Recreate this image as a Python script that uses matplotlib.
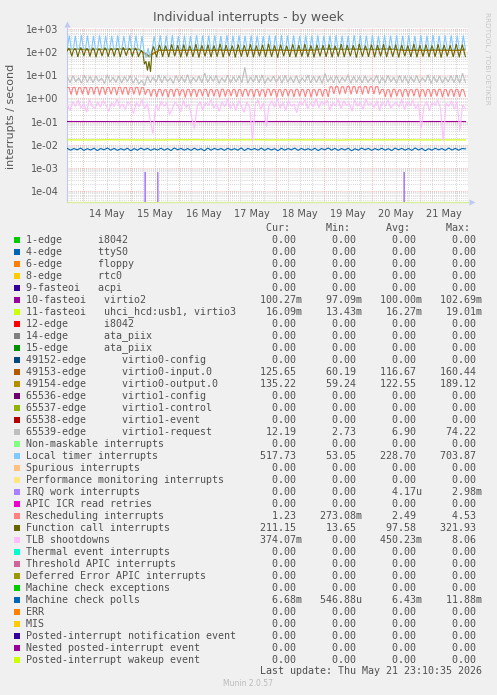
import numpy as np
import matplotlib
matplotlib.use("Agg")
import matplotlib.pyplot as plt
from matplotlib.patches import Rectangle

W, H = 497, 695

# ------------------------------------------------------------------ data
title = "Individual interrupts - by week"
ylabel = "interrupts / second"
day_labels = ["14 May", "15 May", "16 May", "17 May", "18 May", "19 May", "20 May", "21 May"]
ytick_vals = [1e-4, 1e-3, 1e-2, 1e-1, 1e0, 1e1, 1e2, 1e3]
ytick_labels = ["1e-04", "1e-03", "1e-02", "1e-01", "1e+00", "1e+01", "1e+02", "1e+03"]
# time in days relative to 14 May 00:00
t_start, t_end = -0.33, 7.94
view_x = (-0.335, 7.995)
view_y = (10 ** -4.475, 10 ** 3.04)

# Local timer interrupts (per cycle peak / trough)
timer_peak = [520, 505, 540, 512, 498, 530, 515, 508, 525, 500, 535, 518, 505, 150, 490,
              528, 512, 540, 505, 520, 498, 532, 515, 510, 526, 502, 538, 514, 520, 507,
              530, 512, 495, 528, 516, 540, 508, 522, 500, 534, 515, 526, 505, 518, 530,
              512, 498, 536, 520, 510, 528, 504, 540, 516, 522, 508, 532, 500, 525, 514,
              538, 506, 520, 530, 512, 525]
timer_low = [135, 128, 140, 132, 126, 138, 130, 134, 127, 136, 131, 129, 110, 58, 125,
             137, 130, 128, 135, 132, 126, 139, 131, 128, 136, 130, 133, 127, 138, 131,
             129, 135, 128, 132, 137, 126, 134, 130, 139, 128, 133, 131, 127, 136, 130,
             134, 128, 138, 131, 129, 135, 132, 126, 137, 130, 133, 128, 136, 131, 129,
             134, 130, 137, 128, 133, 131]

# Function call interrupts (per cycle base / peak / base / low)
fc_peak = [150, 142, 158, 146, 152, 140, 155, 148, 144, 160, 147, 151, 120, 16, 175,
           205, 190, 215, 198, 210, 186, 220, 195, 208, 192, 225, 200, 188, 212, 196,
           218, 190, 204, 228, 194, 210, 186, 216, 200, 222, 192, 206, 198, 214, 188,
           220, 202, 196, 226, 190, 208, 200, 218, 186, 212, 204, 194, 224, 198, 210,
           190, 216, 202, 196, 220, 211]
fc_base = [112, 115, 110, 118, 114, 111, 116, 113, 117, 110, 115, 112, 90, 40, 105,
           118, 114, 120, 112, 116, 119, 113, 117, 111, 115, 120, 114, 118, 112, 116,
           119, 113, 117, 115, 111, 118, 114, 120, 112, 116, 119, 113, 117, 111, 115,
           120, 114, 118, 112, 116, 119, 113, 117, 115, 111, 118, 114, 120, 112, 116,
           119, 113, 117, 111, 115, 118]
fc_low = [66, 62, 68, 64, 60, 67, 63, 65, 61, 69, 64, 62, 30, 14, 60,
          63, 61, 66, 60, 64, 62, 58, 65, 61, 63, 60, 66, 59, 64, 62,
          60, 65, 61, 63, 58, 66, 62, 60, 64, 61, 59, 65, 62, 60, 63,
          61, 66, 58, 64, 62, 60, 65, 61, 63, 59, 66, 62, 60, 64, 61,
          63, 58, 65, 62, 60, 64]

# virtio0 input / output
virtio_in = [128, 132, 125, 130, 127, 134, 129, 131, 70, 118, 120, 116, 122, 119, 117, 121, 118, 115, 120, 117,
             119, 122, 116, 118, 121, 130, 133, 128, 131, 129, 127, 132, 130, 118, 120, 117, 121, 119, 116, 125]
virtio_out = [135, 138, 131, 137, 133, 140, 136, 134, 62, 124, 126, 121, 127, 124, 122, 128, 123, 120, 126, 122,
              125, 129, 121, 124, 127, 137, 140, 134, 138, 135, 133, 139, 136, 124, 127, 122, 128, 125, 121, 135]

# virtio1-request (per cycle high / low)
vreq_hi = [8.5, 9.6, 7.8, 10.2, 8.9, 9.1, 7.6, 10.5, 8.2, 9.4, 8.8, 10.0, 7.9, 6.0, 9.2,
           8.4, 10.3, 9.0, 7.7, 9.8, 8.6, 10.6, 8.1, 9.3, 12.5, 8.7, 9.9, 7.8, 10.1, 8.5,
           9.5, 22.0, 8.3, 9.7, 10.4, 7.9, 9.2, 8.8, 10.0, 8.4, 9.6, 7.7, 10.3, 8.9, 9.1,
           11.8, 8.6, 9.8, 8.2, 10.5, 9.0, 8.7, 9.4, 7.8, 10.2, 8.5, 9.9, 8.1, 10.0, 9.3,
           8.6, 9.7, 7.9, 10.4, 8.8, 9.2, 8.3, 9.6, 10.1, 12.2]
vreq_lo = [4.8, 5.2, 4.5, 5.0, 4.7, 5.4, 4.4, 5.1, 4.9, 4.6, 5.3, 4.5, 4.2, 3.6, 4.9,
           5.0, 4.6, 5.3, 4.4, 5.1, 4.8, 4.5, 5.2, 4.7, 4.9, 5.4, 4.4, 5.0, 4.6, 5.2,
           4.8, 4.5, 5.1, 4.7, 4.4, 5.3, 4.9, 4.6, 5.0, 4.8, 4.5, 5.2, 4.7, 4.9, 4.4,
           5.1, 4.8, 4.6, 5.3, 4.5, 5.0, 4.7, 4.9, 5.2, 4.4, 4.8, 5.1, 4.6, 4.9, 4.5,
           5.0, 4.7, 5.2, 4.4, 4.9, 4.6, 5.1, 4.8, 4.5, 5.0]

# Rescheduling interrupts (per cycle high, high, low)
resch_hi = [2.95, 3.00, 2.90, 2.98, 2.92, 3.02, 2.94, 2.97, 2.91, 3.00, 2.96, 2.93, 2.99, 2.92, 2.40,
            2.38, 2.45, 2.36, 2.42, 2.48, 2.35, 2.44, 2.40, 2.37, 2.46, 2.41, 2.39, 2.47, 2.36, 2.43,
            2.40, 2.45, 2.38, 2.42, 2.36, 2.48, 2.41, 2.39, 2.44, 2.37, 2.46, 2.40, 2.43, 2.38, 2.45,
            2.41, 3.20, 3.25, 3.18, 3.28, 3.22, 3.19, 3.26, 3.21, 3.24, 2.42, 2.38, 2.45, 2.36, 2.43,
            2.40, 2.47, 2.37, 2.44, 2.39, 2.46, 2.41, 2.38, 2.44, 2.40]
resch_lo = [1.45, 1.38, 1.50, 1.40, 1.47, 1.36, 1.44, 1.49, 1.39, 1.46, 1.41, 1.48, 1.37, 1.43, 1.20,
            1.15, 1.22, 1.12, 1.18, 1.25, 1.10, 1.20, 1.14, 1.23, 1.16, 1.21, 1.11, 1.19, 1.24, 1.13,
            1.17, 1.22, 1.12, 1.20, 1.15, 1.25, 1.10, 1.18, 1.23, 1.14, 1.21, 1.16, 1.12, 1.24, 1.19,
            1.15, 1.55, 1.48, 1.60, 1.50, 1.57, 1.46, 1.58, 1.52, 1.49, 1.16, 1.10, 1.22, 1.13, 1.19,
            1.24, 1.11, 1.18, 1.15, 1.23, 1.12, 1.20, 1.17, 1.14, 1.23]

# TLB shootdowns
tlb = [0.55, 0.30, 0.72, 0.45, 0.85, 0.38, 0.62, 0.25, 0.90, 0.48, 0.35, 0.70, 0.42, 0.80, 0.52,
       0.28, 0.65, 0.45, 0.95, 0.40, 0.58, 0.33, 0.75, 0.50, 0.22, 0.68, 0.44, 0.88, 0.36, 0.60,
       0.12, 0.03, 0.55, 0.30, 0.78, 0.46, 0.64, 0.20, 0.35, 0.70, 0.48, 0.26, 0.82, 0.40, 0.58,
       0.15, 0.05, 0.45, 0.74, 0.32, 0.66, 0.50, 0.86, 0.38, 0.60, 0.28, 0.72, 0.44, 0.92, 0.36,
       0.62, 0.30, 0.80, 0.48, 0.25, 0.70, 0.40, 0.015, 0.55, 0.85, 0.34, 0.65, 0.06, 0.50, 0.78,
       0.42, 0.96, 0.38, 0.68, 0.30, 0.82, 0.46, 0.58, 0.24, 0.75, 0.52, 0.90, 0.35, 0.64, 0.44,
       0.98, 0.40, 0.72, 0.55, 0.85, 0.32, 0.66, 0.48, 0.92, 0.36, 0.78, 0.50, 0.60, 0.28, 0.88,
       0.45, 0.70, 0.34, 0.94, 0.52, 0.62, 0.40, 0.80, 0.30, 0.74, 0.46, 0.86, 0.38, 0.56, 0.66,
       0.42, 0.90, 0.33, 0.72, 0.48, 0.82, 0.36, 0.60, 0.05, 0.44, 0.76, 0.30, 0.68, 0.50, 0.84,
       0.38, 0.015, 0.62, 0.45, 0.78, 0.34, 0.70, 0.04, 0.52, 0.37]

# 10-fasteoi / 11-fasteoi (nearly flat)
irq10 = [0.1002, 0.0998, 0.1001, 0.0999, 0.1000, 0.1003, 0.0997, 0.1001, 0.1000, 0.1002]
irq11 = [0.0162, 0.0160, 0.0163, 0.0161, 0.0159, 0.0162, 0.0164, 0.0160, 0.0161, 0.0163,
         0.0160, 0.0162, 0.0161, 0.0159, 0.0163, 0.0161, 0.0162, 0.0160, 0.0161, 0.0161]

# Machine check polls (per cycle high / low)
mcp_hi = [0.0069, 0.0068, 0.0071, 0.0067, 0.0070, 0.0068, 0.0072, 0.0069, 0.0067, 0.0070,
          0.0068, 0.0071, 0.0069, 0.0067, 0.0070, 0.0068, 0.0072, 0.0069, 0.0068, 0.0070,
          0.0067, 0.0071, 0.0069, 0.0068, 0.0070, 0.0067, 0.0072, 0.0069, 0.0068, 0.0071,
          0.0069, 0.0067, 0.0070, 0.0068, 0.0071, 0.0069, 0.0067, 0.0070, 0.0068, 0.0072,
          0.0069, 0.0068, 0.0070, 0.0067, 0.0071, 0.0069, 0.0068, 0.0070, 0.0067, 0.0071,
          0.0069, 0.0068, 0.0072, 0.0069, 0.0067, 0.0070, 0.0068, 0.0071, 0.0069, 0.0068]
mcp_lo = [0.0058, 0.0060, 0.0057, 0.0059, 0.0056, 0.0060, 0.0058, 0.0057, 0.0059, 0.0055,
          0.0058, 0.0060, 0.0057, 0.0059, 0.0058, 0.0056, 0.0060, 0.0058, 0.0057, 0.0059,
          0.0055, 0.0058, 0.0060, 0.0057, 0.0059, 0.0058, 0.0056, 0.0060, 0.0058, 0.0057,
          0.0059, 0.0055, 0.0058, 0.0060, 0.0057, 0.0059, 0.0058, 0.0056, 0.0060, 0.0058,
          0.0057, 0.0059, 0.0055, 0.0058, 0.0060, 0.0057, 0.0059, 0.0058, 0.0056, 0.0060,
          0.0058, 0.0057, 0.0059, 0.0055, 0.0058, 0.0060, 0.0057, 0.0059, 0.0058, 0.0066]

# IRQ work interrupts: isolated spikes (day, rate), zero elsewhere
irqwork_days = [1.29, 1.55, 6.67]
irqwork_vals = [6.6e-4, 6.4e-4, 6.6e-4]

# legend table
names = ["1-edge      i8042", "4-edge      ttyS0", "6-edge      floppy", "8-edge      rtc0",
         "9-fasteoi   acpi", "10-fasteoi   virtio2", "11-fasteoi   uhci_hcd:usb1, virtio3",
         "12-edge      i8042", "14-edge      ata_piix", "15-edge      ata_piix",
         "49152-edge      virtio0-config", "49153-edge      virtio0-input.0",
         "49154-edge      virtio0-output.0", "65536-edge      virtio1-config",
         "65537-edge      virtio1-control", "65538-edge      virtio1-event",
         "65539-edge      virtio1-request", "Non-maskable interrupts", "Local timer interrupts",
         "Spurious interrupts", "Performance monitoring interrupts", "IRQ work interrupts",
         "APIC ICR read retries", "Rescheduling interrupts", "Function call interrupts",
         "TLB shootdowns", "Thermal event interrupts", "Threshold APIC interrupts",
         "Deferred Error APIC interrupts", "Machine check exceptions", "Machine check polls",
         "ERR", "MIS", "Posted-interrupt notification event", "Nested posted-interrupt event",
         "Posted-interrupt wakeup event"]
colors = ["#00CC00", "#0066B3", "#FF8000", "#FFCC00", "#330099", "#990099", "#CCFF00", "#FF0000",
          "#808080", "#008F00", "#00487D", "#B35A00", "#B38F00", "#6B006B", "#8FB300", "#B30000",
          "#BEBEBE", "#80FF80", "#80C9FF", "#FFC080", "#FFE680", "#AA80FF", "#EE00CC", "#FF8080",
          "#666600", "#FFBFFF", "#00FFCC", "#CC6699", "#999900", "#00CC00", "#0066B3", "#FF8000",
          "#FFCC00", "#330099", "#990099", "#CCFF00"]
Z = "0.00"
cur = [Z, Z, Z, Z, Z, "100.27m", "16.09m", Z, Z, Z, Z, "125.65", "135.22", Z, Z, Z, "12.19", Z,
       "517.73", Z, Z, Z, Z, "1.23", "211.15", "374.07m", Z, Z, Z, Z, "6.68m", Z, Z, Z, Z, Z]
mins = [Z, Z, Z, Z, Z, "97.09m", "13.43m", Z, Z, Z, Z, "60.19", "59.24", Z, Z, Z, "2.73", Z,
        "53.05", Z, Z, Z, Z, "273.08m", "13.65", Z, Z, Z, Z, Z, "546.88u", Z, Z, Z, Z, Z]
avgs = [Z, Z, Z, Z, Z, "100.00m", "16.27m", Z, Z, Z, Z, "116.67", "122.55", Z, Z, Z, "6.90", Z,
        "228.70", Z, Z, "4.17u", Z, "2.49", "97.58", "450.23m", Z, Z, Z, Z, "6.43m", Z, Z, Z, Z, Z]
maxs = [Z, Z, Z, Z, Z, "102.69m", "19.01m", Z, Z, Z, Z, "160.44", "189.12", Z, Z, Z, "74.22", Z,
        "703.87", Z, Z, "2.98m", Z, "4.53", "321.93", "8.06", Z, Z, Z, Z, "11.88m", Z, Z, Z, Z, Z]
last_update = "Last update: Thu May 21 23:10:35 2026"
munin_ver = "Munin 2.0.57"
watermark = "RRDTOOL / TOBI OETIKER"

# ------------------------------------------------------------------ figure
fig = plt.figure(figsize=(W / 100, H / 100), dpi=100, facecolor="#F0F0F0")
ax = fig.add_axes([67 / W, 1 - 202 / H, 401 / W, 174 / H])
ax.set_facecolor("white")
ax.set_yscale("log", nonpositive="clip")
ax.set_xlim(*view_x)
ax.set_ylim(*view_y)


def series(*cols):
    y = np.column_stack([np.asarray(c, float) for c in cols]).ravel()
    x = np.linspace(t_start, t_end, len(y))
    return x, y


LW = 0.8
def plot(x, y, color):
    ax.plot(x, y, color=color, lw=LW, solid_joinstyle="miter", zorder=3)


# draw in legend order (later on top)
plot(*series(irq10), colors[5])
plot(*series(irq11), colors[6])
plot(*series(virtio_in), colors[11])
plot(*series(virtio_out), colors[12])
plot(*series(vreq_hi, vreq_lo), colors[16])
plot(*series(timer_low, timer_peak, timer_low), colors[18])
# IRQ work spikes
xs, ys = [t_start], [0.0]
for d, v in zip(irqwork_days, irqwork_vals):
    xs += [d - 0.021, d, d + 0.021]
    ys += [0.0, v, 0.0]
xs.append(t_end)
ys.append(0.0)
plot(np.array(xs), np.array(ys), colors[21])
plot(*series(resch_hi, resch_hi, resch_lo), colors[23])
plot(*series(fc_base, fc_peak, fc_base, fc_low), colors[24])
plot(*series(tlb), colors[25])
plot(*series(mcp_hi, mcp_lo), colors[30])

# grid
dot = (0, (1, 1.5))
ax.set_yticks(ytick_vals)
ax.set_yticklabels(ytick_labels)
ax.yaxis.set_minor_locator(matplotlib.ticker.LogLocator(base=10, subs=np.arange(2, 10)))
ax.yaxis.set_minor_formatter(matplotlib.ticker.NullFormatter())
ax.grid(True, axis="y", which="major", color="#F0A0A0", lw=0.6, ls=dot, zorder=1)
ax.grid(True, axis="y", which="minor", color="#C8C8C8", lw=0.6, ls=dot, zorder=1)
for k in range(int(np.floor(view_x[0] * 4)), int(np.ceil(view_x[1] * 4)) + 1):
    d = k / 4
    if view_x[0] < d < view_x[1]:
        major = (k % 4 == 0)
        ax.axvline(d, color="#F0A0A0" if major else "#C8C8C8", lw=0.6, ls=dot, zorder=1)
ax.set_xticks(np.arange(len(day_labels)) + 0.5)
ax.set_xticklabels(day_labels)
ax.set_axisbelow(True)
ax.tick_params(axis="both", which="both", length=0, labelsize=7, labelcolor="#555555")
ax.tick_params(axis="x", pad=5)
ax.tick_params(axis="y", pad=6)
for s in ("top", "right"):
    ax.spines[s].set_visible(False)
ax.spines["left"].set_color("#C0C8F4")
ax.spines["left"].set_linewidth(0.8)
ax.spines["bottom"].set_color("#D8EC9C")
ax.spines["bottom"].set_linewidth(1.0)

# overlay in pixel coordinates
ov = fig.add_axes([0, 0, 1, 1], zorder=5)
ov.set_xlim(0, W)
ov.set_ylim(H, 0)
ov.axis("off")
ov.patch.set_alpha(0)

ov.text(W / 2, 18, title, ha="center", va="center", fontsize=9, color="#555555")
ov.text(11, 116, ylabel, ha="center", va="center", rotation=90, fontsize=8, color="#555555")
ov.text(487, 58, watermark, ha="center", va="center", rotation=270, fontsize=5.2, color="#C8C8C8")
ov.plot([67], [24], marker="^", ms=4, color="#C0C8F4", mec="none", clip_on=False)
ov.plot([472], [202], marker=">", ms=4, color="#C0C8F4", mec="none", clip_on=False)

MONO = dict(family="DejaVu Sans Mono", fontsize=7.2, color="#505050")


def field(s):
    if s[-1].isalpha():
        return f"{s[:-1]:>9}{s[-1]}"
    return f"{s:>9} "


header = " " * 40 + "Cur:" + " " * 6 + "Min:" + " " * 6 + "Avg:" + " " * 6 + "Max:"
ov.text(26, 228, header, ha="left", va="center", **MONO)
row0, dy = 240, 12.0
for i, name in enumerate(names):
    y = row0 + i * dy
    line = f"{name:<36}" + field(cur[i]) + field(mins[i]) + field(avgs[i]) + field(maxs[i])
    ov.text(26, y, line, ha="left", va="center", **MONO)
    ov.add_patch(Rectangle((14, y - 3), 6, 6, color=colors[i], lw=0))
ov.text(482, 671, last_update, ha="right", va="center", **MONO)
ov.text(248, 684, munin_ver, ha="center", va="center", fontsize=5.5, color="#BBBBBB")

fig.savefig("out.png", dpi=100, facecolor=fig.get_facecolor())
